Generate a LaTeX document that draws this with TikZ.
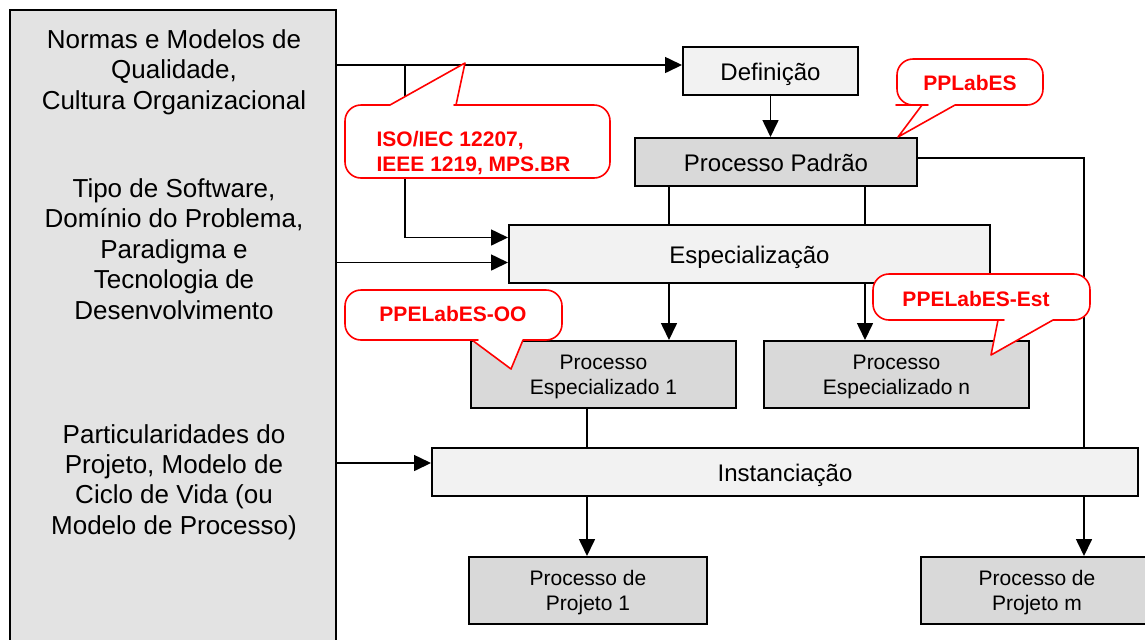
\documentclass[tikz,border=0pt]{standalone}
\usepackage{fontspec}
\setmainfont{Liberation Sans}
\usetikzlibrary{arrows.meta}

\definecolor{cinzafonte}{gray}{0.89}
\definecolor{cinzaproc}{gray}{0.85}
\definecolor{cinzaclaro}{gray}{0.95}

\begin{document}
\begin{tikzpicture}[x=0.5pt,y=-0.5pt]
\tikzstyle{every node}=[align=center,inner sep=0pt]
\tikzstyle{caixa}=[draw,line width=1pt,minimum height=24pt]
\tikzstyle{atividade}=[caixa,fill=cinzaclaro,text height=9.6pt,text depth=0pt,font=\fontsize{12}{14}\selectfont]
\tikzstyle{processo}=[caixa,fill=cinzaproc,text height=9.6pt,text depth=0pt,font=\fontsize{12}{14}\selectfont]
\tikzstyle{menor}=[caixa,fill=cinzaproc,minimum height=33.5pt,text depth=-0.8pt,font=\fontsize{10.5}{12.5}\selectfont]
\tikzstyle{fator}=[font=\fontsize{13}{15.2}\selectfont]
\tikzstyle{nota}=[text=red,font=\bfseries\fontsize{10.5}{12.5}\selectfont]
\tikzstyle{balao}=[draw=red,line width=0.8pt,fill=white,line join=round]
\tikzstyle{seta}=[line width=0.8pt,-{Triangle[length=8.5pt,width=8pt]}]
\tikzstyle{linha}=[line width=0.8pt]

\useasboundingbox (0,0) rectangle (1145,639);
\clip (0,0) rectangle (1145,639);

% fatores de entrada
\node[caixa,fill=cinzafonte,minimum width=163pt,minimum height=320pt] (fatores) at (173,330) {};
\node[fator] (normas) at (174,72) {Normas e Modelos de\\Qualidade,\\Cultura Organizacional};
\node[fator] (software) at (174,249) {Tipo de Software,\\Domínio do Problema,\\Paradigma e\\Tecnologia de\\Desenvolvimento};
\node[fator] (projeto) at (174,482) {Particularidades do\\Projeto, Modelo de\\Ciclo de Vida (ou\\Modelo de Processo)};

% processos
\node[atividade,minimum width=87.5pt] (definicao) at (770.5,71) {Definição};
\node[processo,minimum width=141pt] (padrao) at (776,162) {Processo Padrão};
\node[atividade,minimum width=240.5pt,minimum height=29pt] (especializacao) at (749.5,253.5) {Especialização};
\node[menor,minimum width=132.5pt] (especializado1) at (603.5,374.5) {Processo\\Especializado 1};
\node[menor,minimum width=132.5pt] (especializadon) at (896.5,374.5) {Processo\\Especializado n};
\node[atividade,minimum width=353pt] (instanciacao) at (785,472) {Instanciação};
\node[menor,minimum width=119pt] (projeto1) at (588,590.5) {Processo de\\Projeto 1};
\node[menor,minimum width=116pt] (projetom) at (1037,590.5) {Processo de\\Projeto m};

\coordinate (entradaDef) at ([yshift=3pt]definicao.west);
\coordinate (entradaEsp1) at ([yshift=8pt]especializacao.west);
\coordinate (entradaEsp2) at ([yshift=-4.5pt]especializacao.west);
\coordinate (entradaInst) at ([yshift=4.5pt]instanciacao.west);
\coordinate (saidaPadrao) at ([yshift=2pt]padrao.east);
\coordinate (ramo) at (405,0);
\coordinate (ramoA) at (669,0);
\coordinate (ramoB) at (865,0);
\coordinate (ramoC) at (587,0);
\coordinate (ramoD) at (1084,0);

% ligacoes
\draw[seta] (fatores.east |- entradaDef) -- (entradaDef);
\draw[seta] (ramo |- entradaDef) -- (ramo |- entradaEsp1) -- (entradaEsp1);
\draw[seta] (fatores.east |- entradaEsp2) -- (entradaEsp2);
\draw[seta] (fatores.east |- entradaInst) -- (entradaInst);
\draw[seta] (definicao.south) -- (definicao.south |- padrao.north);
\draw[linha] (ramoA |- padrao.south) -- (ramoA |- especializacao.north);
\draw[linha] (ramoB |- padrao.south) -- (ramoB |- especializacao.north);
\draw[seta] (ramoA |- especializacao.south) -- (ramoA |- especializado1.north);
\draw[seta] (ramoB |- especializacao.south) -- (ramoB |- especializadon.north);
\draw[linha] (ramoC |- especializado1.south) -- (ramoC |- instanciacao.north);
\draw[seta] (ramoC |- instanciacao.south) -- (ramoC |- projeto1.north);
\draw[linha] (saidaPadrao) -- (ramoD |- saidaPadrao) -- (ramoD |- instanciacao.north);
\draw[seta] (ramoD |- instanciacao.south) -- (ramoD |- projetom.north);

% baloes
\draw[balao] (456,105) -- (465,63) -- (390,105) -- (380,105) [rounded corners=8pt] -- (345,105) -- (345,178) -- (610,178) -- (610,105) -- (470,105) [sharp corners] -- cycle;
\draw[balao] (922,105) -- (898,137) -- (955,105) -- (965,105) [rounded corners=8pt] -- (1043,105) -- (1043,59) -- (897,59) -- (897,105) -- (912,105) [sharp corners] -- cycle;
\draw[balao] (472,340) -- (511,369) -- (523,340) -- (533,340) [rounded corners=8pt] -- (562,340) -- (562,290) -- (345,290) -- (345,340) -- (462,340) [sharp corners] -- cycle;
\draw[balao] (998,320) -- (991,355) -- (1053,320) -- (1060,320) [rounded corners=8pt] -- (1090,320) -- (1090,274) -- (873,274) -- (873,320) -- (988,320) [sharp corners] -- cycle;
\node[nota,align=left] (iso) at (473.5,153) {ISO/IEC 12207,\\IEEE 1219, MPS.BR};
\node[nota] (pplabes) at (970,83) {PPLabES};
\node[nota] (ppelabesoo) at (453,314) {PPELabES-OO};
\node[nota] (ppelabesest) at (976,298.5) {PPELabES-Est};
\end{tikzpicture}
\end{document}
